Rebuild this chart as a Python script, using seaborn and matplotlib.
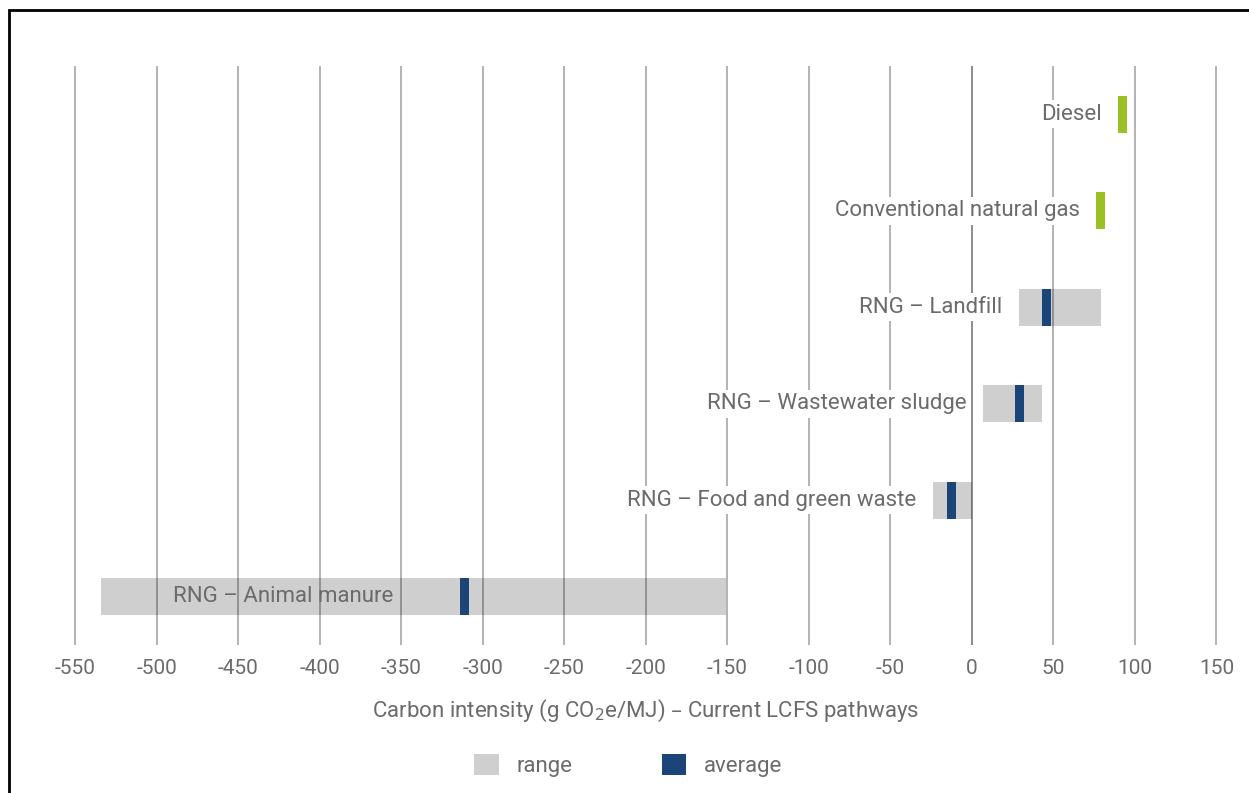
import matplotlib
matplotlib.use("Agg")
import matplotlib.pyplot as plt
from matplotlib.patches import Patch, Rectangle
import seaborn as sns
import numpy as np

# pathways, top to bottom
pathways = ["Diesel", "Conventional natural gas", "RNG – Landfill",
            "RNG – Wastewater sludge", "RNG – Food and green waste",
            "RNG – Animal manure"]
range_lo = [None, None, 29, 7, -24, -534]
range_hi = [None, None, 79, 43, 0, -151]
averages = [92.5, 79, 46, 29, -12.5, -311]
is_fossil = [True, True, False, False, False, False]
ticks = list(range(-550, 151, 50))

GREY = "#cfcfcf"
NAVY = "#1b4578"
GREEN = "#9cbf26"
TXT = "#6b6b6b"

sns.set_theme(style="white")
plt.rcParams["font.family"] = ["Roboto", "DejaVu Sans"]

fig = plt.figure(figsize=(12.49, 7.93), dpi=100)
ax = fig.add_axes([0.047, 0.1866, 0.94, 0.7302])

ypos = np.arange(len(pathways))
h = 0.38
mark_w = 5.5

# grid lines sit on top of the grey ranges (they darken where they cross)
for x in ticks:
    ax.axvline(x, color="black", alpha=0.45 if x == 0 else 0.3, lw=1.4,
               zorder=2)

for i, name in enumerate(pathways):
    if is_fossil[i]:
        ax.barh(ypos[i], mark_w, left=averages[i] - mark_w / 2, height=h,
                color=GREEN, lw=0, zorder=3)
        lab_x = averages[i] - mark_w / 2
    else:
        ax.barh(ypos[i], range_hi[i] - range_lo[i], left=range_lo[i], height=h,
                color=GREY, lw=0, zorder=1)
        ax.barh(ypos[i], mark_w, left=averages[i] - mark_w / 2, height=h,
                color=NAVY, lw=0, zorder=3)
        lab_x = range_lo[i]
    if name == "RNG – Animal manure":
        ax.text(-355, ypos[i], name, ha="right", va="center", fontsize=16,
                color=TXT, zorder=4)
    else:
        ax.annotate(name, (lab_x, ypos[i]), xytext=(-12, 0),
                    textcoords="offset points", ha="right", va="center",
                    fontsize=16, color=TXT, zorder=4,
                    bbox=dict(boxstyle="square,pad=0.15", fc="white", ec="none"))

ax.set_xlim(-560, 160)
ax.set_ylim(len(pathways) - 0.5, -0.5)
ax.set_xticks(ticks)
ax.set_xticklabels([str(t) for t in ticks])
ax.set_yticks([])
ax.tick_params(axis="x", length=0, pad=10, labelsize=15, labelcolor=TXT)
sns.despine(ax=ax, left=True, bottom=True)
ax.set_xlabel("Carbon intensity (g CO$_2$e/MJ) – Current LCFS pathways",
              fontsize=16, color=TXT, labelpad=14)

handles = [Patch(facecolor=GREY, lw=0, label="range"),
           Patch(facecolor=NAVY, lw=0, label="average")]
fig.legend(handles=handles, loc="center", bbox_to_anchor=(0.503, 0.035), ncol=2,
           frameon=False, fontsize=16, labelcolor=TXT, handlelength=1.1,
           handleheight=1.1, columnspacing=4.0, handletextpad=0.8)

fig.patches.append(Rectangle((9 / 1249, -0.1), 1.2, 1.1 - 10 / 793,
                             transform=fig.transFigure, fill=False,
                             ec="black", lw=2))

fig.savefig("out.png", dpi=100)
